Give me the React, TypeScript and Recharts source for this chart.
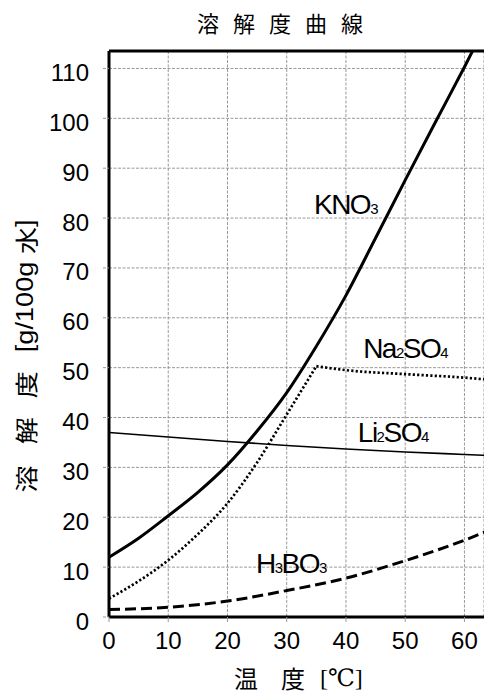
import React from 'react';
import {
  LineChart,
  Line,
  XAxis,
  YAxis,
  CartesianGrid,
  ReferenceLine,
  ReferenceDot,
} from 'recharts';

// axis setup
const X_TICKS = [0, 10, 20, 30, 40, 50, 60];
const Y_TICKS = [0, 10, 20, 30, 40, 50, 60, 70, 80, 90, 100, 110];
const X_MAX = 63.3;
const Y_MAX = 113.5;

// solubility [g/100g water] vs temperature [°C]
const KNO3_TEMP = [0, 5, 10, 15, 20, 25, 30, 35, 40, 45, 50, 55, 60, 65];
const KNO3_SOL = [12, 15.8, 20.3, 25, 30.5, 37.3, 45, 54.3, 64.5, 76, 87.6, 99, 110.3, 122];

// Na2SO4: decahydrate branch up to ~35°C, then anhydrous branch
const NA2SO4_LOW_TEMP = [0, 5, 10, 15, 20, 25, 30, 35];
const NA2SO4_LOW_SOL = [3.7, 7.2, 11.4, 16.6, 22.8, 31, 40.6, 50.3];
const NA2SO4_HIGH_TEMP = [35, 40, 50, 60, 64];
const NA2SO4_HIGH_SOL = [50.3, 49.5, 48.7, 48, 47.6];

const LI2SO4_TEMP = [0, 10, 20, 30, 40, 50, 60, 64];
const LI2SO4_SOL = [37, 36.1, 35.2, 34.4, 33.7, 33.1, 32.6, 32.4];

const H3BO3_TEMP = [0, 10, 20, 30, 40, 50, 60, 64];
const H3BO3_SOL = [1.5, 1.95, 3.2, 5.3, 7.8, 11.3, 15.4, 17.3];

const toPoints = (temps: number[], sols: number[]) =>
  temps.map((t, i) => ({ t, v: sols[i] }));

const SANS = '"Liberation Sans", Arial, sans-serif';
const CJK = '"Noto Sans CJK JP", "Liberation Sans", sans-serif';

type Part = { text: string; sub?: boolean };

const FormulaLabel = (props: any) => {
  const { viewBox, parts } = props;
  if (!viewBox) return null;
  return (
    <text x={viewBox.x} y={viewBox.y} fontFamily={SANS} fill="#000" letterSpacing={-1.5}>
      {parts.map((p: Part, i: number) => (
        <tspan key={i} fontSize={p.sub ? 15 : 28}>
          {p.text}
        </tspan>
      ))}
    </text>
  );
};

const XTick = (props: any) => {
  const { x, y, payload } = props;
  return (
    <text x={x} y={y + 25} textAnchor="middle" fontSize={24} fontFamily={SANS} fill="#000">
      {payload.value}
    </text>
  );
};

const YTick = (props: any) => {
  const { x, y, payload } = props;
  return (
    <text x={x - 12} y={y + 12.5} textAnchor="end" fontSize={24} fontFamily={SANS} fill="#000">
      {payload.value}
    </text>
  );
};

export default function App() {
  return (
    <div style={{ position: 'absolute', left: 0, top: 0, width: 484, height: 695, overflow: 'hidden', background: '#fff' }}>
      <div
        style={{
          position: 'absolute',
          left: 197,
          top: 9,
          fontFamily: CJK,
          fontSize: 22,
          lineHeight: '26px',
          letterSpacing: 14,
          whiteSpace: 'nowrap',
        }}
      >
        溶解度曲線
      </div>

      <LineChart width={484} height={695} margin={{ top: 51, right: 0, bottom: 0, left: 0 }}>
        <CartesianGrid stroke="#999" strokeDasharray="3 1.5" />
        <XAxis
          dataKey="t"
          type="number"
          domain={[0, X_MAX]}
          ticks={X_TICKS}
          interval={0}
          allowDataOverflow
          height={78}
          tickSize={5}
          tickLine={{ stroke: '#999' }}
          axisLine={{ stroke: '#000', strokeWidth: 3 }}
          tick={<XTick />}
        />
        <YAxis
          type="number"
          domain={[0, Y_MAX]}
          ticks={Y_TICKS}
          interval={0}
          allowDataOverflow
          width={109}
          tickSize={6}
          tickLine={{ stroke: '#999', strokeDasharray: '3 1.5' }}
          axisLine={{ stroke: '#000', strokeWidth: 3 }}
          tick={<YTick />}
        />
        <Line
          data={toPoints(LI2SO4_TEMP, LI2SO4_SOL)}
          dataKey="v"
          type="monotone"
          stroke="#000"
          strokeWidth={1.6}
          dot={false}
          isAnimationActive={false}
        />
        <Line
          data={toPoints(NA2SO4_LOW_TEMP, NA2SO4_LOW_SOL)}
          dataKey="v"
          type="monotone"
          stroke="#000"
          strokeWidth={2.7}
          strokeDasharray="2.2 2.2"
          dot={false}
          isAnimationActive={false}
        />
        <Line
          data={toPoints(NA2SO4_HIGH_TEMP, NA2SO4_HIGH_SOL)}
          dataKey="v"
          type="monotone"
          stroke="#000"
          strokeWidth={2.7}
          strokeDasharray="2.2 2.2"
          dot={false}
          isAnimationActive={false}
        />
        <Line
          data={toPoints(H3BO3_TEMP, H3BO3_SOL)}
          dataKey="v"
          type="monotone"
          stroke="#000"
          strokeWidth={3}
          strokeDasharray="11 5"
          dot={false}
          isAnimationActive={false}
        />
        <Line
          data={toPoints(KNO3_TEMP, KNO3_SOL)}
          dataKey="v"
          type="monotone"
          stroke="#000"
          strokeWidth={3}
          dot={false}
          isAnimationActive={false}
        />
        <ReferenceLine y={Y_MAX} stroke="#000" strokeWidth={3} ifOverflow="visible" />

        <ReferenceDot x={34.6} y={80.8} r={0} ifOverflow="visible"
          label={<FormulaLabel parts={[{ text: 'KNO' }, { text: '3', sub: true }]} />} />
        <ReferenceDot x={42.9} y={51.9} r={0} ifOverflow="visible"
          label={<FormulaLabel parts={[{ text: 'Na' }, { text: '2', sub: true }, { text: 'SO' }, { text: '4', sub: true }]} />} />
        <ReferenceDot x={42.0} y={35.15} r={0} ifOverflow="visible"
          label={<FormulaLabel parts={[{ text: 'Li' }, { text: '2', sub: true }, { text: 'SO' }, { text: '4', sub: true }]} />} />
        <ReferenceDot x={24.8} y={8.8} r={0} ifOverflow="visible"
          label={<FormulaLabel parts={[{ text: 'H' }, { text: '3', sub: true }, { text: 'BO' }, { text: '3', sub: true }]} />} />
      </LineChart>

      {/* y axis title */}
      <div
        style={{
          position: 'absolute',
          left: 25,
          top: 356,
          transform: 'translate(-50%, -50%) rotate(-90deg) scaleX(1.18)',
          whiteSpace: 'nowrap',
          fontFamily: CJK,
          fontSize: 23,
          lineHeight: '26px',
          display: 'flex',
          alignItems: 'center',
        }}
      >
        <span>溶</span>
        <span style={{ marginLeft: 18 }}>解</span>
        <span style={{ marginLeft: 16 }}>度</span>
        <span style={{ marginLeft: 16, fontFamily: SANS }}>[g/100g&nbsp;</span>
        <span>水</span>
        <span style={{ fontFamily: SANS }}>]</span>
      </div>

      {/* x axis title */}
      <div
        style={{
          position: 'absolute',
          left: 234,
          top: 665,
          whiteSpace: 'nowrap',
          fontSize: 24,
          lineHeight: '26px',
          display: 'flex',
          alignItems: 'center',
        }}
      >
        <span style={{ fontFamily: CJK }}>温</span>
        <span style={{ fontFamily: CJK, marginLeft: 23 }}>度</span>
        <span style={{ fontFamily: '"Liberation Serif", "DejaVu Serif", serif', marginLeft: 15 }}>[℃]</span>
      </div>
    </div>
  );
}
